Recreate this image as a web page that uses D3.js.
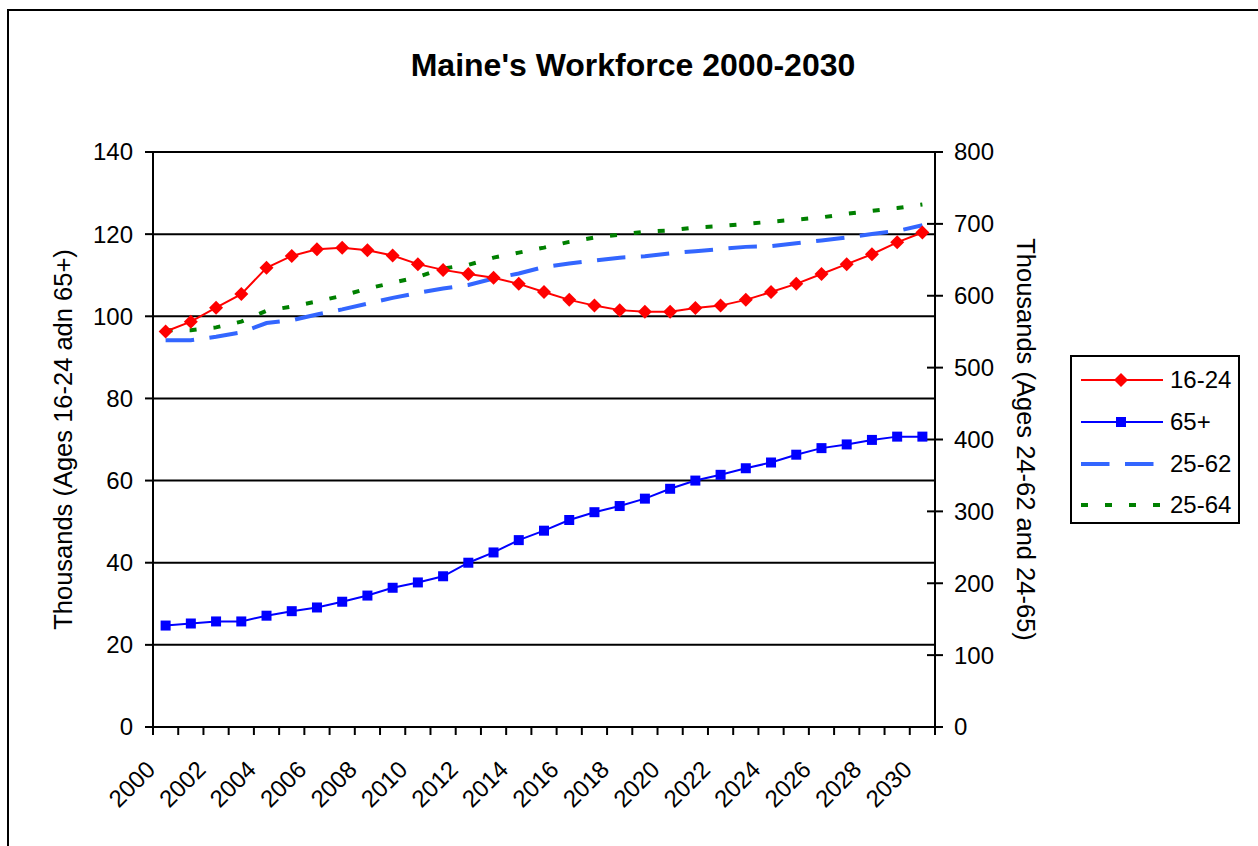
<!DOCTYPE html>
<html>
<head>
<meta charset="utf-8">
<script src="https://cdn.jsdelivr.net/npm/d3@7"></script>
<style>
  html, body { margin: 0; padding: 0; background: #fff; }
  svg { display: block; }
  text { font-family: "Liberation Sans", Arial, sans-serif; fill: #000; }
</style>
</head>
<body>
<svg id="chart" width="1258" height="846"></svg>
<script>
const years = [2000,2001,2002,2003,2004,2005,2006,2007,2008,2009,2010,2011,2012,2013,2014,2015,2016,2017,2018,2019,2020,2021,2022,2023,2024,2025,2026,2027,2028,2029,2030];
const yearLabels = ["2000","2002","2004","2006","2008","2010","2012","2014","2016","2018","2020","2022","2024","2026","2028","2030"];

// Left axis (thousands)
const age16_24 = [96.3,98.7,102.1,105.4,111.8,114.7,116.3,116.7,116.1,114.8,112.7,111.3,110.3,109.4,107.9,105.9,104.0,102.6,101.5,101.1,101.1,102.0,102.6,104.0,105.9,107.9,110.3,112.7,115.1,118.0,120.4];
const age65plus = [24.7,25.2,25.7,25.7,27.1,28.2,29.1,30.5,32.0,33.9,35.2,36.7,40.0,42.5,45.5,47.8,50.4,52.3,53.8,55.6,58.0,60.0,61.4,63.0,64.4,66.3,67.9,68.8,69.9,70.7,70.7];
// Right axis (thousands)
const age25_62 = [538,538,543,549,562,566,574,581,589,597,604,610,615,624,631,640,645,649,653,655,659,662,665,668,669,673,677,681,686,690,698];
const age25_64 = [552,552,556,564,579,585,592,600,610,618,626,638,643,653,660,667,675,681,685,689,691,695,697,700,703,706,709,714,718,722,727];

const leftTicks = [0,20,40,60,80,100,120,140];
const rightTicks = [0,100,200,300,400,500,600,700,800];

const svg = d3.select("#chart");
const L = 153, R = 935, T = 152, B = 727;

const x = d3.scaleBand().domain(years).range([L, R]).padding(0);
const cx = d => x(d) + x.bandwidth() / 2;
const yL = d3.scaleLinear().domain([0, 140]).range([B, T]);
const yR = d3.scaleLinear().domain([0, 800]).range([B, T]);

// outer chart border
svg.append("rect").attr("x", 8).attr("y", 10).attr("width", 1400).attr("height", 1000)
  .attr("fill", "none").attr("stroke", "#000").attr("stroke-width", 2);

// title
svg.append("text").attr("x", 633).attr("y", 76).attr("text-anchor", "middle")
  .style("font-size", "32px").style("font-weight", "bold")
  .text("Maine's Workforce 2000-2030");

// gridlines
svg.append("g").selectAll("line").data(leftTicks.filter(d => d > 0)).join("line")
  .attr("x1", L).attr("x2", R).attr("y1", d => yL(d)).attr("y2", d => yL(d))
  .attr("stroke", "#000").attr("stroke-width", 2);

// left axis
svg.append("line").attr("x1", L).attr("x2", L).attr("y1", T).attr("y2", B)
  .attr("stroke", "#000").attr("stroke-width", 2);
svg.append("g").selectAll("line").data(leftTicks).join("line")
  .attr("x1", L - 8).attr("x2", L).attr("y1", d => yL(d)).attr("y2", d => yL(d))
  .attr("stroke", "#000").attr("stroke-width", 2);
svg.append("g").selectAll("text").data(leftTicks).join("text")
  .attr("x", 133).attr("y", d => yL(d)).attr("dy", "0.35em").attr("text-anchor", "end")
  .style("font-size", "24px").text(d => d);

// right axis
svg.append("line").attr("x1", R).attr("x2", R).attr("y1", T).attr("y2", B)
  .attr("stroke", "#000").attr("stroke-width", 2);
svg.append("g").selectAll("line").data(rightTicks).join("line")
  .attr("x1", R - 8).attr("x2", R + 8).attr("y1", d => yR(d)).attr("y2", d => yR(d))
  .attr("stroke", "#000").attr("stroke-width", 2);
svg.append("g").selectAll("text").data(rightTicks).join("text")
  .attr("x", 954).attr("y", d => yR(d)).attr("dy", "0.35em").attr("text-anchor", "start")
  .style("font-size", "24px").text(d => d);

// x axis
svg.append("line").attr("x1", L - 8).attr("x2", R + 8).attr("y1", B).attr("y2", B)
  .attr("stroke", "#000").attr("stroke-width", 2);
const bounds = years.map(d => x(d)).concat([R]);
svg.append("g").selectAll("line").data(bounds).join("line")
  .attr("x1", d => d).attr("x2", d => d).attr("y1", B).attr("y2", B + 8)
  .attr("stroke", "#000").attr("stroke-width", 2);
svg.append("g").selectAll("text").data(yearLabels).join("text")
  .attr("transform", d => `translate(${cx(+d) - 9},771) rotate(-45)`)
  .attr("text-anchor", "end").style("font-size", "24px").text(d => d);

// axis titles
svg.append("text").attr("transform", `translate(63,${(T + B) / 2}) rotate(-90)`)
  .attr("text-anchor", "middle").attr("dy", "0.35em").style("font-size", "25.5px")
  .text("Thousands (Ages 16-24 adn 65+)");
svg.append("text").attr("transform", `translate(1026,${(T + B) / 2}) rotate(90)`)
  .attr("text-anchor", "middle").attr("dy", "0.35em").style("font-size", "25.5px")
  .text("Thousands (Ages 24-62 and 24-65)");

// series
const lineL = d3.line().x((d, i) => cx(years[i])).y(d => yL(d));
const lineR = d3.line().x((d, i) => cx(years[i])).y(d => yR(d));

svg.append("path").datum(age25_64).attr("d", lineR).attr("fill", "none")
  .attr("stroke", "#008000").attr("stroke-width", 4).attr("stroke-dasharray", "7,17");
svg.append("path").datum(age25_62).attr("d", lineR).attr("fill", "none")
  .attr("stroke", "#3366FF").attr("stroke-width", 4).attr("stroke-dasharray", "28.5,15.5");

svg.append("path").datum(age65plus).attr("d", lineL).attr("fill", "none")
  .attr("stroke", "#0000FF").attr("stroke-width", 2);
svg.append("g").selectAll("rect").data(age65plus).join("rect")
  .attr("x", (d, i) => cx(years[i]) - 5).attr("y", d => yL(d) - 5)
  .attr("width", 10).attr("height", 10).attr("fill", "#0000FF");

svg.append("path").datum(age16_24).attr("d", lineL).attr("fill", "none")
  .attr("stroke", "#FF0000").attr("stroke-width", 2);
const diamond = "M0,-7L7,0L0,7L-7,0Z";
svg.append("g").selectAll("path").data(age16_24).join("path")
  .attr("transform", (d, i) => `translate(${cx(years[i])},${yL(d)})`)
  .attr("d", diamond).attr("fill", "#FF0000");

// legend
const lg = svg.append("g");
lg.append("rect").attr("x", 1071).attr("y", 356).attr("width", 168).attr("height", 167)
  .attr("fill", "#fff").attr("stroke", "#000").attr("stroke-width", 2);
const legendItems = [
  { name: "16-24", color: "#FF0000", w: 2, dash: null, marker: "diamond" },
  { name: "65+", color: "#0000FF", w: 2, dash: null, marker: "square" },
  { name: "25-62", color: "#3366FF", w: 4, dash: "28.5,15.5", marker: null },
  { name: "25-64", color: "#008000", w: 4, dash: "7,17", marker: null }
];
const rowY = [380, 422, 464, 505];
legendItems.forEach((it, i) => {
  const y = rowY[i];
  const ln = lg.append("line").attr("x1", 1081).attr("x2", 1163).attr("y1", y).attr("y2", y)
    .attr("stroke", it.color).attr("stroke-width", it.w);
  if (it.dash) ln.attr("stroke-dasharray", it.dash);
  if (it.marker === "diamond") {
    lg.append("path").attr("transform", `translate(1121,${y})`).attr("d", diamond).attr("fill", it.color);
  } else if (it.marker === "square") {
    lg.append("rect").attr("x", 1116).attr("y", y - 5).attr("width", 10).attr("height", 10).attr("fill", it.color);
  }
  lg.append("text").attr("x", 1170).attr("y", y).attr("dy", "0.35em")
    .style("font-size", "24px").text(it.name);
});
</script>
</body>
</html>
